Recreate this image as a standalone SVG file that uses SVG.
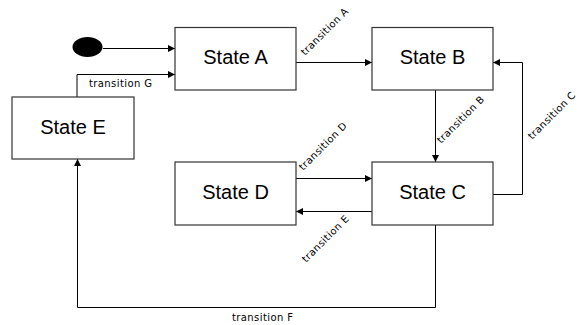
<svg xmlns="http://www.w3.org/2000/svg" width="584" height="325" viewBox="0 0 584 325">
<defs>
<marker id="arr" viewBox="0 0 10 10" refX="10" refY="5" markerWidth="7" markerHeight="7" markerUnits="userSpaceOnUse" orient="auto">
<path d="M0,0 L10,5 L0,10 z" fill="#000"/>
</marker>
<style>
.box{fill:#fff;stroke:#333;stroke-width:1.2}
.name{font-family:"Liberation Sans",Arial,sans-serif;font-size:20px;fill:#000;text-anchor:middle}
.lbl{font-family:"DejaVu Sans",sans-serif;font-size:10px;letter-spacing:0.4px;fill:#000}
.c{fill:none;stroke:#000;stroke-width:1}
</style>
</defs>
<rect width="584" height="325" fill="#fff"/>
<g id="connectors">
<line class="c" x1="103" y1="48.5" x2="175" y2="48.5" marker-end="url(#arr)"/>
<polyline class="c" points="77,97 77,74.5 175,74.5" marker-end="url(#arr)"/>
<line class="c" x1="296" y1="62.5" x2="372" y2="62.5" marker-end="url(#arr)"/>
<line class="c" x1="435.5" y1="90" x2="435.5" y2="162" marker-end="url(#arr)"/>
<polyline class="c" points="493,194.5 522.5,194.5 522.5,62.5 493,62.5" marker-end="url(#arr)"/>
<line class="c" x1="296" y1="178.5" x2="372" y2="178.5" marker-end="url(#arr)"/>
<line class="c" x1="372" y1="211.5" x2="296" y2="211.5" marker-end="url(#arr)"/>
<polyline class="c" points="435.5,225 435.5,307.5 77.5,307.5 77.5,159" marker-end="url(#arr)"/>
<text class="lbl" x="89" y="87">transition G</text>
<text class="lbl" transform="translate(305,56) rotate(-45)">transition A</text>
<text class="lbl" transform="translate(441,144) rotate(-45)">transition B</text>
<text class="lbl" transform="translate(532,140) rotate(-45)">transition C</text>
<text class="lbl" transform="translate(303,171) rotate(-45)">transition D</text>
<text class="lbl" transform="translate(306,263) rotate(-45)">transition E</text>
<text class="lbl" x="232" y="321">transition F</text>
</g>
<g id="start"><ellipse cx="87.5" cy="47" rx="15" ry="10" fill="#000"/></g>
<g id="stateA"><rect class="box" x="175" y="27.5" width="121" height="62.5"/><text class="name" x="235.5" y="64">State A</text></g>
<g id="stateB"><rect class="box" x="372" y="27.5" width="121" height="62.5"/><text class="name" x="432.5" y="64">State B</text></g>
<g id="stateC"><rect class="box" x="372" y="162" width="121" height="63"/><text class="name" x="432.5" y="199">State C</text></g>
<g id="stateD"><rect class="box" x="175" y="162" width="121" height="63"/><text class="name" x="235.5" y="199">State D</text></g>
<g id="stateE"><rect class="box" x="12" y="97" width="122" height="62"/><text class="name" x="73" y="134">State E</text></g>
</svg>
